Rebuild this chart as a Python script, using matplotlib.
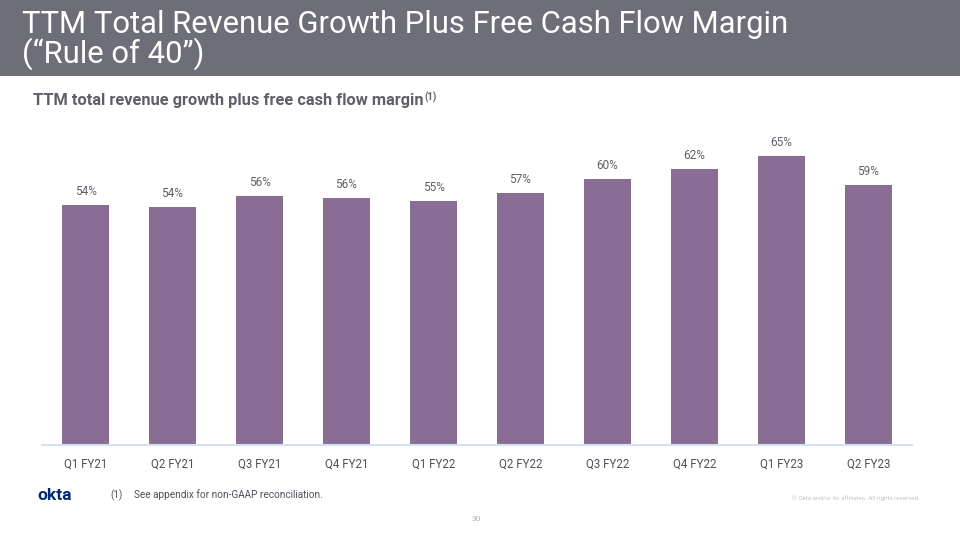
import matplotlib
matplotlib.use("Agg")
import matplotlib.pyplot as plt
from matplotlib.patches import Rectangle

categories = ["Q1 FY21", "Q2 FY21", "Q3 FY21", "Q4 FY21", "Q1 FY22",
              "Q2 FY22", "Q3 FY22", "Q4 FY22", "Q1 FY23", "Q2 FY23"]
values = [54.1, 53.6, 56.0, 55.6, 54.9, 56.7, 59.8, 62.1, 65.0, 58.6]

title_text = "TTM Total Revenue Growth Plus Free Cash Flow Margin\n(\u201cRule of 40\u201d)"
subtitle_text = "TTM total revenue growth plus free cash flow margin"

plt.rcParams['font.family'] = ['Roboto', 'DejaVu Sans']

W, H = 960, 540
fig = plt.figure(figsize=(W / 100, H / 100), dpi=100)
fig.patch.set_facecolor("white")

# Title banner
fig.patches.append(Rectangle((0, 1 - 76 / H), 1, 76 / H, transform=fig.transFigure,
                             facecolor="#6d6e78", edgecolor="none", zorder=0))
fig.text(22 / W, 1 - 40 / H, title_text, color="white", fontsize=22.3,
         va="center", ha="left", linespacing=0.9)

sub = fig.text(33 / W, 1 - 101 / H, subtitle_text, color="#5f5f69",
               fontsize=11.8, fontweight="bold", va="center", ha="left")

# Axes: x 42..912, baseline y=445, top y=130
left, right = 42, 912
bottom, top = 445, 130
ax = fig.add_axes([left / W, 1 - bottom / H, (right - left) / W, (bottom - top) / H])
ax.annotate("(1)", xy=(1, 1), xycoords=sub, xytext=(0.5, 1), textcoords="offset points",
            va="top", ha="left", fontsize=7, fontweight="bold", color="#5f5f69",
            annotation_clip=False)
x = list(range(len(categories)))
bars = ax.bar(x, values, width=0.53, color="#8a6d95", zorder=2)
ax.set_xlim(-0.5, len(categories) - 0.5)
ax.set_ylim(0, (bottom - top) / 4.445)
for xi, v in zip(x, values):
    ax.annotate(f"{v:.0f}%", (xi, v), xytext=(0, 5), textcoords="offset points",
                ha="center", va="bottom", fontsize=8.5, color="#5f5f69")
ax.set_xticks(x)
ax.set_xticklabels(categories, fontsize=8.3, color="#4f4f59")
ax.tick_params(axis="x", length=0, pad=9)
ax.set_yticks([])
for s in ["top", "right", "left"]:
    ax.spines[s].set_visible(False)
ax.spines["bottom"].set_color("#d5e0f2")
ax.spines["bottom"].set_linewidth(1.5)
ax.set_facecolor("none")

# Footer
fig.text(37 / W, 1 - 495 / H, "okta", color="#00297a", fontsize=12.5,
         fontweight="bold", va="center", ha="left")
fig.text(110 / W, 1 - 495 / H, "(1)", color="#4f4f59", fontsize=7, va="center", ha="left")
fig.text(134 / W, 1 - 495 / H, "See appendix for non-GAAP reconciliation.", color="#4f4f59",
         fontsize=7.2, va="center", ha="left")
fig.text(920 / W, 1 - 498 / H, "\u00a9 Okta and/or its affiliates. All rights reserved.",
         color="#c4c4cc", fontsize=4.5, va="center", ha="right")
fig.text(476 / W, 1 - 519 / H, "30", color="#b0b0b8", fontsize=6, va="center", ha="center")

fig.savefig("out.png", dpi=100)
